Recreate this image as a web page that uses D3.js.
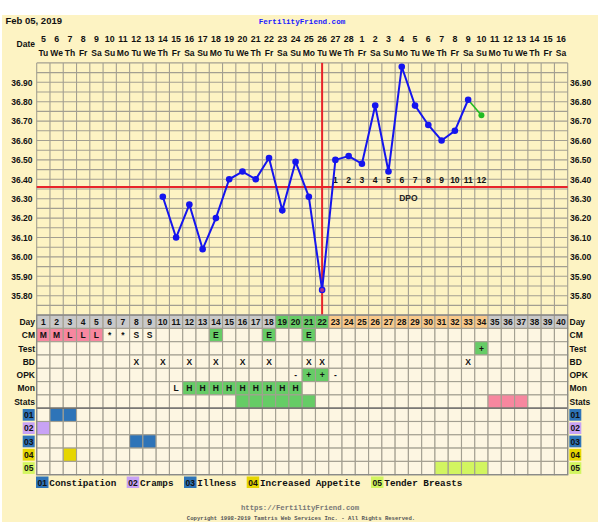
<!DOCTYPE html>
<html><head><meta charset="utf-8">
<script src="https://cdn.jsdelivr.net/npm/d3@7"></script>
<style>body{margin:0;background:#fff;} svg{display:block;}</style>
</head><body><svg id="c" width="600" height="529"></svg>
<script>
// ---------- data ----------
const days = d3.range(1, 41);
const dateLabels = ["5","6","7","8","9","10","11","12","13","14","15","16","17","18","19","20","21","22","23","24","25","26","27","28","1","2","3","4","5","6","7","8","9","10","11","12","13","14","15","16"];
const weekdayLabels = ["Tu","We","Th","Fr","Sa","Su","Mo","Tu","We","Th","Fr","Sa","Su","Mo","Tu","We","Th","Fr","Sa","Su","Mo","Tu","We","Th","Fr","Sa","Su","Mo","Tu","We","Th","Fr","Sa","Su","Mo","Tu","We","Th","Fr","Sa"];
const tempDays   = [10,11,12,13,14,15,16,17,18,19,20,21,22,23,24,25,26,27,28,29,30,31,32,33];
const tempValues = [36.31,36.10,36.27,36.04,36.20,36.40,36.44,36.40,36.51,36.24,36.49,36.31,35.83,36.50,36.52,36.48,36.78,36.44,36.98,36.78,36.68,36.60,36.65,36.81];
const projDays   = [33,34];
const projValues = [36.81,36.73];
const tempTicks = [35.80,35.90,36.00,36.10,36.20,36.30,36.40,36.50,36.60,36.70,36.80,36.90];
const coverline = 36.36;
const ovulationDay = 22;
const dpoDays   = [23,24,25,26,27,28,29,30,31,32,33,34];
const dpoLabels = ["1","2","3","4","5","6","7","8","9","10","11","12"];
const dayPhase = ["grey","grey","grey","grey","grey","grey","grey","grey","grey","grey","grey","grey","grey","grey","grey","grey","grey","grey","green","green","green","green","orange","orange","orange","orange","orange","orange","orange","orange","orange","orange","orange","orange","grey","grey","grey","grey","grey","grey"];
const rowNames = ["Day","CM","Test","BD","OPK","Mon","Stats","01","02","03","04","05"];
const cmDays   = [1,2,3,4,5,6,7,8,9,14,18,21];
const cmText   = ["M","M","L","L","L","*","*","S","S","E","E","E"];
const cmFill   = ["pink","pink","pink","pink","pink",null,null,null,null,"green","green","green"];
const testDays = [34]; const testText = ["+"]; const testFill = ["green"];
const bdDays = [8,10,12,14,16,18,21,22,33];
const opkDays = [20,21,22,23]; const opkText = ["-","+","+","-"]; const opkFill = [null,"green","green",null];
const monDays = [11,12,13,14,15,16,17,18,19,20]; const monText = ["L","H","H","H","H","H","H","H","H","H"]; const monFill = [null,"green","green","green","green","green","green","green","green","green"];
const statsDays = [16,17,18,19,20,21,35,36,37];
const statsFill = ["green","green","green","green","green","green","pink","pink","pink"];
const symptomCodes = ["01","02","03","04","05"];
const symptomNames = ["Constipation","Cramps","Illness","Increased Appetite","Tender Breasts"];
const symptomDays = [[2,3],[1],[8,9],[3],[31,32,33,34]];

// ---------- styles ----------
const colors = {grey:"#c9c9c9", green:"#66cc66", orange:"#f9c98a", pink:"#f7879f", cream:"#fdf6e2", bg:"#fdf3c3", grid:"#a39f91"};
const symColors = ["#2e74b8","#c8a2f5","#2e74b8","#e6d600","#d2f560"];
const sans = "'Liberation Sans', Arial, sans-serif";
const mono = "'Liberation Mono', 'Courier New', monospace";

const svg = d3.select("#c");
svg.append("rect").attr("x",2).attr("y",15).attr("width",596).attr("height",507).attr("fill",colors.bg);

const x = d3.scaleBand().domain(days).range([36.7, 567.7]).padding(0);
const bw = x.bandwidth();
const cx = d => x(d) + bw/2;
const y = d3.scaleLinear().domain([35.70, 37.00]).range([315.1, 62.9]);
const yRow = d3.scaleBand().domain(rowNames).range([315.1, 474.7]);
const rh = yRow.bandwidth();

// ---------- header ----------
svg.append("text").attr("x",5.5).attr("y",24).attr("font-family",sans).attr("font-weight","bold").attr("font-size",9.5).attr("fill","#111").text("Feb 05, 2019");
svg.append("text").attr("x",302).attr("y",23.5).attr("text-anchor","middle").attr("font-family",mono).attr("font-weight","bold").attr("font-size",7.6).attr("fill","#1a1aff").text("FertilityFriend.com");
svg.append("text").attr("x",35).attr("y",46.5).attr("text-anchor","end").attr("font-family",sans).attr("font-weight","bold").attr("font-size",8.5).attr("fill","#111").text("Date");
svg.append("g").selectAll("text").data(days).join("text")
  .attr("x",cx).attr("y",42).attr("text-anchor","middle").attr("font-family",sans).attr("font-weight","bold").attr("font-size",8.8).attr("fill","#111")
  .text((d,i)=>dateLabels[i]);
svg.append("g").selectAll("text").data(days).join("text")
  .attr("x",cx).attr("y",55.5).attr("text-anchor","middle").attr("font-family",sans).attr("font-weight","bold").attr("font-size",8.5).attr("fill","#111")
  .text((d,i)=>weekdayLabels[i]);

// ---------- temperature grid ----------
const gGrid = svg.append("g").attr("stroke",colors.grid).attr("stroke-width",1.1);
const hLines = d3.range(0, 27).map(i => 35.70 + i*0.05);
gGrid.selectAll("line.h").data(hLines).join("line").attr("class","h")
  .attr("x1",x(1)).attr("x2",x(40)+bw).attr("y1",d=>y(d)).attr("y2",d=>y(d));
gGrid.selectAll("line.v").data(d3.range(0,41)).join("line").attr("class","v")
  .attr("x1",i=>x(1)+i*bw).attr("x2",i=>x(1)+i*bw).attr("y1",y(37.0)).attr("y2",y(35.70));

// axes
const axL = d3.axisLeft(y).tickValues(tempTicks).tickFormat(d3.format(".2f")).tickSize(0).tickPadding(0);
const gL = svg.append("g").attr("transform","translate(32.5,0)").call(axL);
const axR = d3.axisRight(y).tickValues(tempTicks).tickFormat(d3.format(".2f")).tickSize(0).tickPadding(0);
const gR = svg.append("g").attr("transform","translate(570,0)").call(axR);
[gL,gR].forEach(g=>{ g.select(".domain").remove(); g.selectAll("text").attr("font-family",sans).attr("font-weight","bold").attr("font-size",8.5).attr("fill","#111"); });

// coverline & ovulation line
svg.append("line").attr("x1",x(1)).attr("x2",x(40)+bw).attr("y1",y(coverline)).attr("y2",y(coverline)).attr("stroke","#e8242a").attr("stroke-width",2);
svg.append("line").attr("x1",cx(ovulationDay)).attr("x2",cx(ovulationDay)).attr("y1",y(37.0)).attr("y2",y(35.70)).attr("stroke","#e8242a").attr("stroke-width",2);

// DPO
svg.append("g").selectAll("text").data(dpoDays).join("text")
  .attr("x",cx).attr("y",183).attr("text-anchor","middle").attr("font-family",sans).attr("font-weight","bold").attr("font-size",8.5).attr("fill","#111")
  .text((d,i)=>dpoLabels[i]);
svg.append("text").attr("x",(cx(dpoDays[0])+cx(dpoDays[dpoDays.length-1]))/2).attr("y",201).attr("text-anchor","middle").attr("font-family",sans).attr("font-size",8.5).attr("font-weight","bold").attr("fill","#222").text("DPO");

// temperature line
const tempPts = tempDays.map((d,i)=>[d,tempValues[i]]);
const line = d3.line().x(d=>cx(d[0])).y(d=>y(d[1]));
const projPts = projDays.map((d,i)=>[d,projValues[i]]);
svg.append("path").attr("d",line(projPts)).attr("fill","none").attr("stroke","#22bb22").attr("stroke-width",1.6);
svg.append("path").attr("d",line(tempPts)).attr("fill","none").attr("stroke","#1515ee").attr("stroke-width",2);
svg.append("g").selectAll("circle").data(tempPts).join("circle").attr("cx",d=>cx(d[0])).attr("cy",d=>y(d[1])).attr("r",3.3).attr("fill","#1515ee");
svg.append("circle").attr("cx",cx(projDays[1])).attr("cy",y(projValues[1])).attr("r",3).attr("fill","#22bb22");
// ovulation point marker
svg.append("circle").attr("cx",cx(22)).attr("cy",y(35.83)).attr("r",2).attr("fill","#b03090");

// ---------- bottom table ----------
const gT = svg.append("g");
const cells = [];
rowNames.forEach((r,ri)=>days.forEach((d,di)=>{
  let fill = colors.cream;
  if (r==="Day") fill = colors[dayPhase[di]];
  cells.push({r,d,fill});
}));
function setFill(row, ds, fills, colorMap){
  ds.forEach((d,i)=>{ const f = fills[i]; if(!f) return; const c = cells.find(c=>c.r===row&&c.d===d); c.fill = colorMap ? colorMap[f] : f; });
}
setFill("CM", cmDays, cmFill, colors);
setFill("Test", testDays, testFill, colors);
setFill("OPK", opkDays, opkFill, colors);
setFill("Mon", monDays, monFill, colors);
setFill("Stats", statsDays, statsFill, colors);
symptomCodes.forEach((code,si)=> setFill(code, symptomDays[si], symptomDays[si].map(()=>symColors[si])));

gT.selectAll("rect").data(cells).join("rect")
  .attr("x",c=>x(c.d)).attr("y",c=>yRow(c.r)).attr("width",bw).attr("height",rh)
  .attr("fill",c=>c.fill).attr("stroke",colors.grid).attr("stroke-width",1.1);
svg.append("line").attr("x1",x(1)).attr("x2",x(40)+bw).attr("y1",yRow("01")).attr("y2",yRow("01")).attr("stroke","#666").attr("stroke-width",1.2);
svg.append("rect").attr("x",x(1)).attr("y",yRow("Day")).attr("width",40*bw).attr("height",rh*12).attr("fill","none").attr("stroke","#888").attr("stroke-width",1.2);

function rowText(row, ds, texts){
  svg.append("g").selectAll("text").data(ds).join("text")
    .attr("x",cx).attr("y",yRow(row)+rh/2+3.2).attr("text-anchor","middle")
    .attr("font-family",sans).attr("font-weight","bold").attr("font-size",8.5).attr("fill","#111")
    .text((d,i)=>texts[i]);
}
rowText("Day", days, days.map(String));
rowText("CM", cmDays, cmText);
rowText("Test", testDays, testText);
rowText("BD", bdDays, bdDays.map(()=>"X"));
rowText("OPK", opkDays, opkText);
rowText("Mon", monDays, monText);

// row labels
const textRows = rowNames.slice(0,7);
svg.append("g").selectAll("text").data(textRows).join("text")
  .attr("x",35).attr("y",r=>yRow(r)+rh/2+3.2).attr("text-anchor","end")
  .attr("font-family",sans).attr("font-weight","bold").attr("font-size",8.5).attr("fill","#111").text(r=>r);
svg.append("g").selectAll("text").data(textRows).join("text")
  .attr("x",569.5).attr("y",r=>yRow(r)+rh/2+3.2).attr("text-anchor","start")
  .attr("font-family",sans).attr("font-weight","bold").attr("font-size",8.5).attr("fill","#111").text(r=>r);
symptomCodes.forEach((code,si)=>{
  [22.7, 569.3].forEach(bx=>{
    svg.append("rect").attr("x",bx).attr("y",yRow(code)+0.8).attr("width",12).attr("height",rh-1.6).attr("fill",symColors[si]);
    svg.append("text").attr("x",bx+6).attr("y",yRow(code)+rh/2+3.2).attr("text-anchor","middle")
      .attr("font-family",sans).attr("font-weight","bold").attr("font-size",8.5).attr("fill","#111").text(code);
  });
});

// legend
const legendX = [36, 126.7, 184, 246.7, 371];
symptomCodes.forEach((code,si)=>{
  const lx = legendX[si];
  svg.append("rect").attr("x",lx).attr("y",476.5).attr("width",12.5).attr("height",11.5).attr("fill",symColors[si]);
  svg.append("text").attr("x",lx+6.25).attr("y",485.5).attr("text-anchor","middle").attr("font-family",sans).attr("font-weight","bold").attr("font-size",8.5).attr("fill","#111").text(code);
  svg.append("text").attr("x",lx+13.3).attr("y",485.8).attr("font-family",mono).attr("font-weight","bold").attr("font-size",9.3).attr("fill","#111").text(symptomNames[si]);
});

// footer
svg.append("text").attr("x",300).attr("y",510).attr("text-anchor","middle").attr("font-family",mono).attr("font-weight","bold").attr("font-size",7.3).attr("fill","#777").text("https://FertilityFriend.com");
svg.append("text").attr("x",301).attr("y",520).attr("text-anchor","middle").attr("font-family",mono).attr("font-weight","bold").attr("font-size",5.6).attr("fill","#555").text("Copyright 1998-2019 Tamtris Web Services Inc. - All Rights Reserved.");
</script>
</body></html>
